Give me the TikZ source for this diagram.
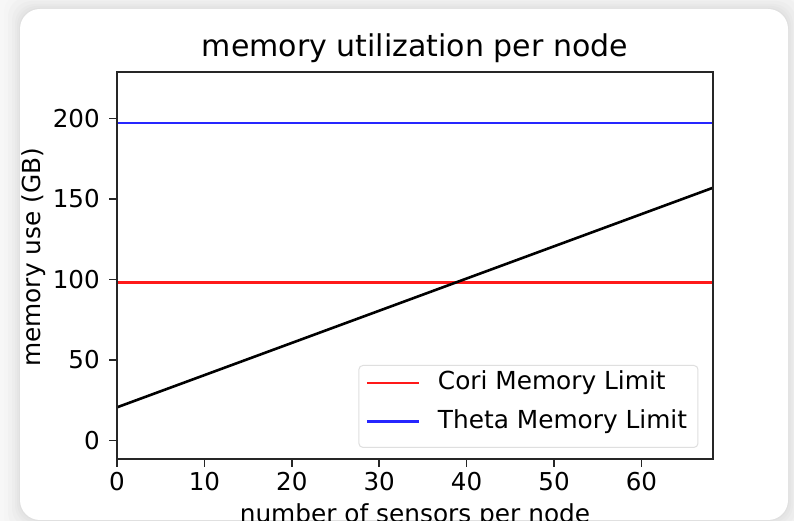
\documentclass[tikz,border=0pt]{standalone}
\usepackage{fontspec}
\setmainfont{DejaVu Sans}

\tikzset{
  ticklab/.style={font=\fontsize{24.6}{28}\selectfont, inner sep=0pt},
  axlab/.style={font=\fontsize{24.8}{28}\selectfont, inner sep=0pt},
  plotline/.style={line width=2.6pt},
  spine/.style={line width=1.7pt, black!85},
}

\begin{document}
\begin{tikzpicture}[x=1pt,y=1pt]
\useasboundingbox (0,0) rectangle (794,521);

% screenshot card and its shadow
\fill [gray!6] (0,0) rectangle (794,521);
\foreach \d/\c in {16/8, 12/11, 8/14, 5/17, 3/20, 1/24}
  \fill [gray!\c, rounded corners=20pt] (20-\d,1-\d) rectangle (788+\d,512+\d);
\fill [white, rounded corners=20pt] (20,1) rectangle (788,512);

\node [font=\fontsize{30}{34}\selectfont, anchor=base, inner sep=0pt] (title) at (415,464) {memory utilization per node};

% data part
\begin{scope}[shift={(117,80.5)}, x=8.74pt, y=1.61pt]

\coordinate (ll) at (0,-11.5);
\coordinate (ur) at (68.2,228.9);

\draw [plotline, red!90!white] (0,98) -- (68.2,98);
\draw [plotline, blue!85!white] (0,197.2) -- (68.2,197.2);
\draw [plotline, black] (0,20.6) -- (68.2,157);

% legend
\draw [gray!25, fill=white, fill opacity=0.85, line width=1pt, rounded corners=4pt]
  (27.68,46.6) rectangle (66.47,-4.3);
\draw [plotline, red!90!white] (28.6,35.7) -- (34.55,35.7);
\node [axlab, anchor=west] (cori) at (36.7,35.7) {Cori Memory Limit};
\draw [plotline, blue!85!white] (28.6,11.7) -- (34.55,11.7);
\node [axlab, anchor=west] (theta) at (36.7,11.7) {Theta Memory Limit};

\draw [spine] (ll) rectangle (ur);

\foreach \t in {0,10,...,60} {
  \draw [spine] (\t,-11.5) -- ++(0,-7.9pt);
  \node [ticklab, anchor=base, yshift=-31pt] (xt\t) at (\t,-11.5) {\t};
}
\foreach \t in {0,50,...,200} {
  \draw [spine] (0,\t) -- ++(-7.9pt,0);
  \node [ticklab, anchor=east] (yt\t) at (-17pt,\t) {\t};
}

\end{scope}

\node [axlab, anchor=base] (xlab) at (415,-2) {number of sensors per node};
\node [axlab, anchor=base, rotate=90] (ylab) at (40,263.5) {memory use (GB)};

\end{tikzpicture}
\end{document}
